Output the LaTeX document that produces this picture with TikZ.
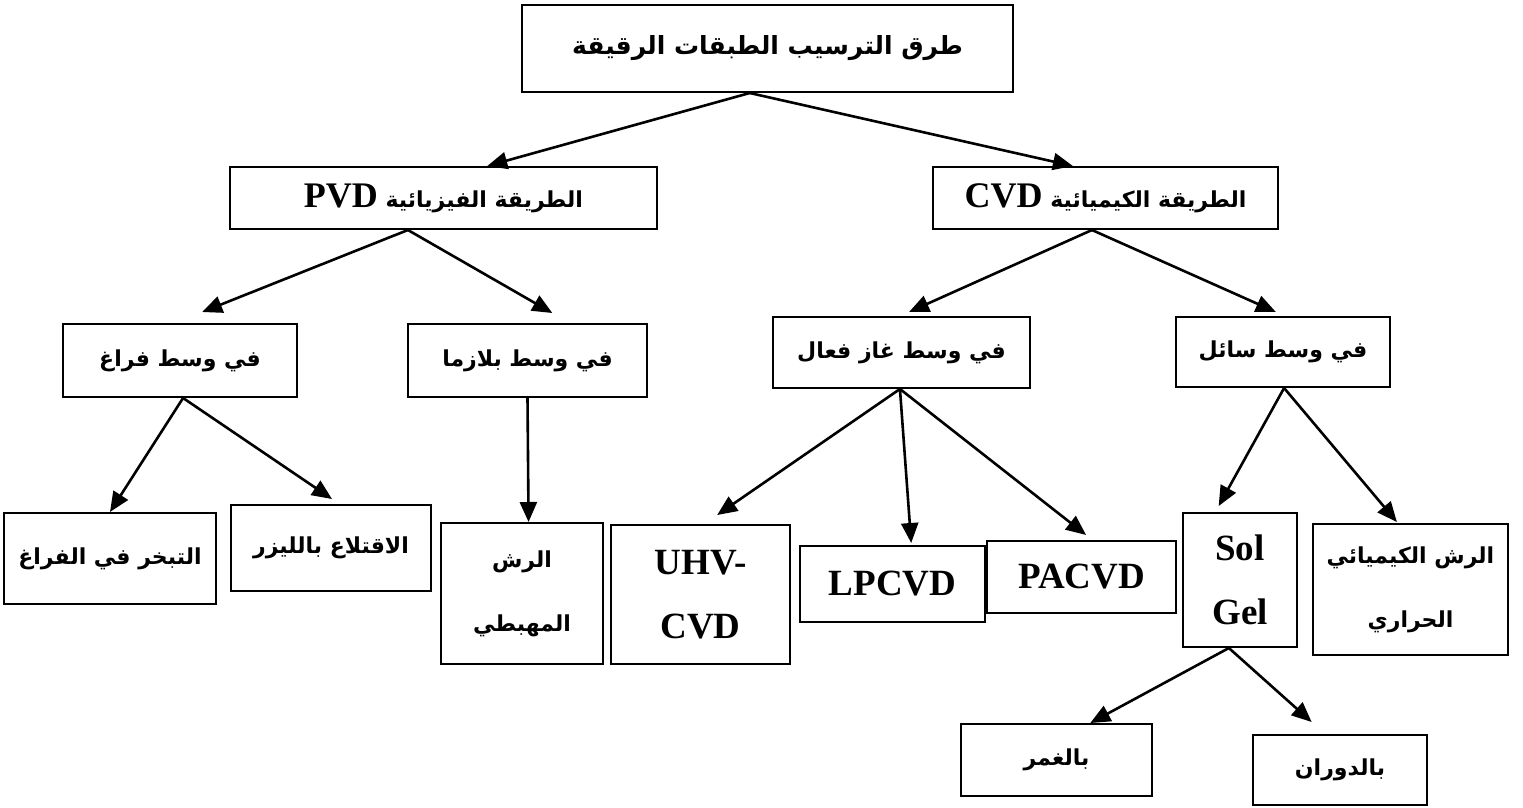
\documentclass[tikz,border=0pt]{standalone}
\usepackage{fontspec}
\setmainfont{Liberation Serif}
\newfontfamily\arabicfont[Script=Arabic]{DejaVu Sans}
\TeXXeTstate=1
\usetikzlibrary{arrows.meta,calc}

% Arabic run, set right to left in bold
\newcommand{\artxt}[1]{{\arabicfont\bfseries\beginR #1\endR}}
% Latin run inside Arabic text
\newcommand{\latxt}[1]{{\rmfamily\bfseries\beginL #1\endL}}

\tikzset{
  box/.style={draw, line width=2pt, inner sep=0pt, align=center,
    font=\fontsize{22}{64}\selectfont\bfseries},
  lat/.style={font=\fontsize{37}{64}\selectfont\bfseries},
  arr/.style={line width=2.6pt, -{Triangle[length=20pt,width=17pt]}}
}

\begin{document}
\begin{tikzpicture}[x=1pt,y=-1pt]
\useasboundingbox (0,0) rectangle (1523,807);

% level 0
\node[box, minimum width=491, minimum height=87, font=\fontsize{25}{30}\selectfont\bfseries] (top) at (767.5,48.5)
  {\artxt{طرق الترسيب الطبقات الرقيقة}};

% level 1
\node[box, minimum width=427, minimum height=62] (pvd) at (443.5,198)
  {\artxt{الطريقة الفيزيائية {\fontsize{36}{40}\selectfont\latxt{PVD}}}};
\node[box, minimum width=345, minimum height=62] (cvd) at (1105.5,198)
  {\artxt{الطريقة الكيميائية {\fontsize{36}{40}\selectfont\latxt{CVD}}}};

% level 2
\node[box, minimum width=234, minimum height=73] (vac) at (180,360.5)
  {\artxt{في وسط فراغ}};
\node[box, minimum width=239, minimum height=73] (plasma) at (527.5,360.5)
  {\artxt{في وسط بلازما}};
\node[box, minimum width=257, minimum height=71] (gas) at (901.5,352.5)
  {\artxt{في وسط غاز فعال}};
\node[box, minimum width=214, minimum height=70] (liquid) at (1283,352)
  {\artxt{في وسط سائل}};

% level 3
\node[box, minimum width=212, minimum height=91] (evap) at (110,558.5)
  {\artxt{التبخر في الفراغ}};
\node[box, minimum width=200, minimum height=86] (laser) at (331,548)
  {\artxt{الاقتلاع بالليزر}};
\node[box, minimum width=162, minimum height=141] (sputter) at (522,593.5)
  {\artxt{الرش}\\\artxt{المهبطي}};
\node[box, lat, minimum width=179, minimum height=139] (uhv) at (700.5,594.5)
  {UHV-\\CVD};
\node[box, lat, minimum width=185, minimum height=76] (lpcvd) at (892.5,584)
  {LPCVD};
\node[box, lat, minimum width=189, minimum height=72] (pacvd) at (1081.5,577)
  {PACVD};
\node[box, lat, minimum width=114, minimum height=134] (solgel) at (1240,580)
  {Sol\\Gel};
\node[box, minimum width=195, minimum height=131] (spray) at (1410.5,589.5)
  {\artxt{الرش الكيميائي}\\\artxt{الحراري}};

% level 4
\node[box, minimum width=191, minimum height=72] (dip) at (1056.5,760)
  {\artxt{بالغمر}};
\node[box, minimum width=174, minimum height=70] (spin) at (1340,770)
  {\artxt{بالدوران}};

% connectors: from a point on the lower edge to a point on the upper edge
\draw[arr] ($(top.south west)!.464!(top.south east)$) -- ($(pvd.north west)!.602!(pvd.north east)$);
\draw[arr] ($(top.south west)!.464!(top.south east)$) -- ($(cvd.north west)!.406!(cvd.north east)$);

\draw[arr] ($(pvd.south west)!.417!(pvd.south east)$) -- ($(vac.north west)!.594!(vac.north east)+(0,-11)$);
\draw[arr] ($(pvd.south west)!.417!(pvd.south east)$) -- ($(plasma.north west)!.603!(plasma.north east)+(0,-10)$);
\draw[arr] ($(cvd.south west)!.461!(cvd.south east)$) -- ($(gas.north west)!.529!(gas.north east)+(0,-4)$);
\draw[arr] ($(cvd.south west)!.461!(cvd.south east)$) -- ($(liquid.north west)!.467!(liquid.north east)+(0,-4)$);

\draw[arr] ($(vac.south west)!.513!(vac.south east)$) -- ($(evap.north west)!.5!(evap.north east)$);
\draw[arr] ($(vac.south west)!.513!(vac.south east)$) -- ($(laser.north west)!.505!(laser.north east)+(0,-5)$);
\draw[arr] (plasma.south) -- ($(sputter.north west)!.54!(sputter.north east)$);

\draw[arr] ($(gas.south west)!.494!(gas.south east)$) -- ($(uhv.north west)!.592!(uhv.north east)+(0,-9)$);
\draw[arr] ($(gas.south west)!.494!(gas.south east)$) -- ($(lpcvd.north west)!.6!(lpcvd.north east)+(0,-2)$);
\draw[arr] ($(gas.south west)!.494!(gas.south east)$) -- ($(pacvd.north west)!.524!(pacvd.north east)+(0,-5)$);

\draw[arr] ($(liquid.south west)!.505!(liquid.south east)$) -- ($(solgel.north west)!.316!(solgel.north east)+(0,-6)$);
\draw[arr] ($(liquid.south west)!.505!(liquid.south east)$) -- ($(spray.north west)!.431!(spray.north east)+(0,-1)$);

\draw[arr] ($(solgel.south west)!.404!(solgel.south east)$) -- ($(dip.north west)!.675!(dip.north east)$);
\draw[arr] ($(solgel.south west)!.404!(solgel.south east)$) -- ($(spin.north west)!.339!(spin.north east)+(0,-12)$);
\end{tikzpicture}
\end{document}
